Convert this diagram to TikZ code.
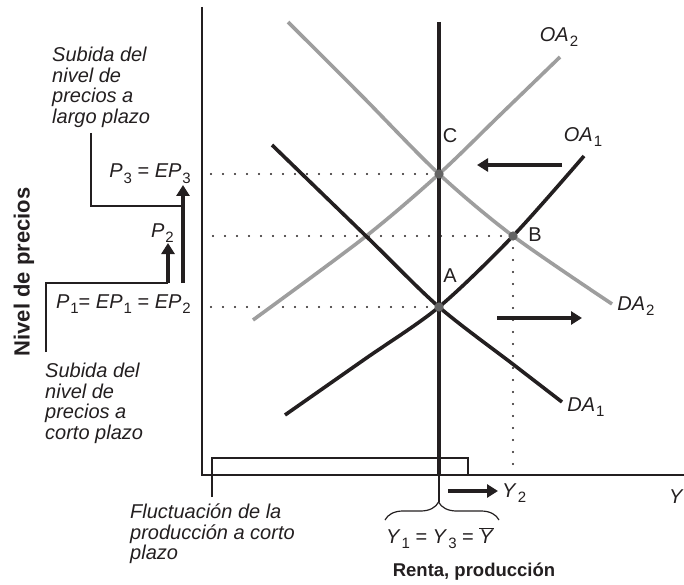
\documentclass[tikz,border=0pt]{standalone}
\usepackage{fontspec}
\setmainfont{Liberation Sans}
\usetikzlibrary{arrows.meta, decorations.pathreplacing, calc}
\definecolor{figK}{RGB}{35,31,32}
\definecolor{figL}{RGB}{158,158,158}
\definecolor{figD}{RGB}{100,100,100}
\newcommand{\sbl}[2]{\textit{#1}\kern.05em\raisebox{-.5ex}{\scalebox{.75}{#2}}}
\tikzset{curveK/.style={figK, line width=3.6pt},
  curveL/.style={figL, line width=3.6pt},
  guide/.style={figK, line width=2.2pt, dash pattern=on 0pt off 12pt, line cap=round},
  lead/.style={figK, line width=1.2pt},
  moveArrow/.style={figK, line width=4.5pt, -{Triangle[length=11pt, width=13pt]}},
  note/.style={font=\fontsize{20}{20.5}\selectfont\itshape, align=left, inner sep=0pt, figK},
  lab/.style={font=\fontsize{20}{22}\selectfont, inner sep=0pt, figK}}

\begin{document}
\begin{tikzpicture}[x=1pt, y=-1pt]
\useasboundingbox (0,0) rectangle (684,585);
% equilibrium points
\coordinate (A) at (439,307);
\coordinate (B) at (513,236);
\coordinate (C) at (439,174);
% axes
\coordinate (O) at (202,475);
\draw[lead] (202,7) -- (O) -- (684,475);
% dotted guides to the price axis
\draw[guide] (C) -- (C -| O);
\draw[guide] (B) -- (B -| O);
\draw[guide] (A) -- (A -| O);
\draw[guide] (B) -- (B |- O);
% shifted curves (grey)
\draw[curveL] plot[smooth] coordinates {(288,22) (362,96) (439,174) (513,236) (612,304)};
\draw[curveL] plot[smooth] coordinates {(253,320) (365,237) (439,174) (500,115) (560,57)};
% initial curves (black)
\draw[curveK] plot[smooth] coordinates {(272,145) (368,238) (439,307) (514,365) (562,402)};
\draw[curveK] plot[smooth] coordinates {(285,415) (365,359) (439,307) (513,236) (584,156)};
% long-run supply
\coordinate (Ytop) at (439,22);
\draw[figK, line width=4.2pt] (Ytop) -- (A |- O);
\foreach \p in {A,B,C} \fill[figD] (\p) circle (4.6pt);
\node[lab] (labC) at (450,136) {C};
\node[lab] (labB) at (535,235) {B};
\node[lab] (labA) at (450,276) {A};
\node[lab] (oa2) at (559,37) {\sbl{OA}{2}};
\node[lab] (oa1) at (583,137) {\sbl{OA}{1}};
\node[lab] (da2) at (636,306) {\sbl{DA}{2}};
\node[lab] (da1) at (586,407) {\sbl{DA}{1}};
% shifts of the curves
\coordinate (s1) at (562,165); \coordinate (s2) at (477,165);
\coordinate (d1) at (497,318); \coordinate (d2) at (582,318);
\draw[moveArrow] (s1) -- (s2);
\draw[moveArrow] (d1) -- (d2);
% price levels on the vertical axis
\node[lab, anchor=base east] (p3) at (191,178) {\sbl{P}{3} = \sbl{EP}{3}};
\node[lab, anchor=base east] (p2) at (174,237) {\sbl{P}{2}};
\node[lab, anchor=base east] (p1) at (191,308) {\sbl{P}{1}= \sbl{EP}{1} = \sbl{EP}{2}};
\coordinate (u1) at (168,283); \coordinate (u2) at (168,243);
\coordinate (v1) at (183,283); \coordinate (v2) at (183,185);
\draw[moveArrow] (u1) -- (u2);
\draw[moveArrow] (v1) -- (v2);
\node[note, anchor=north west] (largo) at (52,47) {Subida del\\nivel de\\precios a\\largo plazo};
\node[note, anchor=north west] (corto) at (45,363) {Subida del\\nivel de\\precios a\\corto plazo};
\draw[lead] (91,133) -- (91,206) -- (v1 |- 0,206);
\draw[lead] (46,352) -- (46,283) -- (u1);
\node[font=\fontsize{22}{24}\selectfont\bfseries, rotate=90, figK] (ylab) at (24,272) {Nivel de precios};
% output side
\draw[lead] (212,497) -- (212,458) -- (468,458) -- (468,475);
\node[note, anchor=north west] (fluct) at (130,504) {Fluctuación de la\\producción a corto\\plazo};
\coordinate (tip) at (439,502);
\draw[lead] (A |- O) -- (tip);
\draw[lead, decorate, decoration={brace, amplitude=18pt, aspect=0.47}] (385,520) -- (499,520);
\coordinate (y1) at (448,491); \coordinate (y2) at (498,491);
\draw[moveArrow] (y1) -- (y2);
\node[lab, anchor=base west] (ytwo) at (502,497) {\sbl{Y}{2}};
\node[lab, anchor=base] (ybar) at (440,543) {\sbl{Y}{1} = \sbl{Y}{3} = $\overline{\hbox{\textit{Y}}}$};
\node[font=\fontsize{18.5}{22}\selectfont\bfseries, figK, anchor=base] (xlab) at (474,576) {Renta, producción};
\node[lab, anchor=base west] (yax) at (669,503) {\textit{Y}};
\end{tikzpicture}
\end{document}
